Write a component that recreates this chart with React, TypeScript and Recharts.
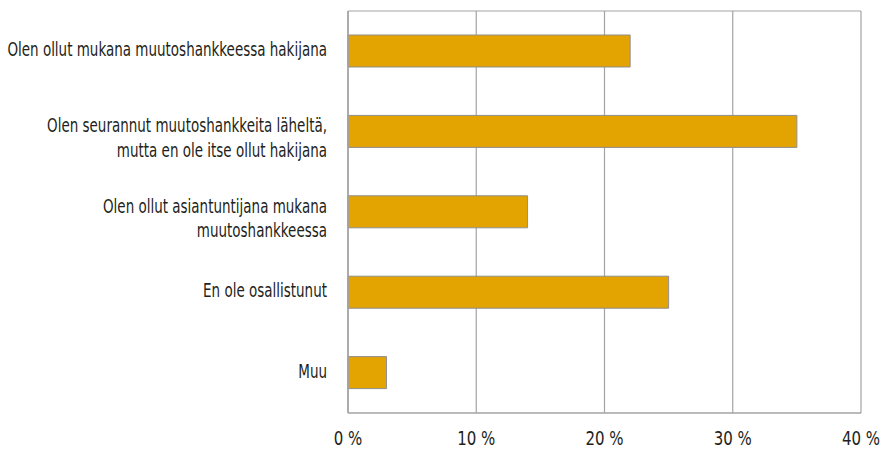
import React from 'react';
import { BarChart, Bar, XAxis, YAxis, CartesianGrid } from 'recharts';

const categories = [
  'Olen ollut mukana muutoshankkeessa hakijana',
  'Olen seurannut muutoshankkeita läheltä,\nmutta en ole itse ollut hakijana',
  'Olen ollut asiantuntijana mukana\nmuutoshankkeessa',
  'En ole osallistunut',
  'Muu',
];
const shares = [22, 35, 14, 25, 3];
const xTicks = [0, 10, 20, 30, 40];

const data = categories.map((name, i) => ({ name, value: shares[i] }));

// condensed look: regular face squeezed horizontally
const FONT = '"DejaVu Sans", sans-serif';
const SX_CAT = 0.71;
const SX_NUM = 0.79;
const GRID = '#a3a3a3';
const TEXT = '#231f20';

const CategoryTick = (props: any) => {
  const { x, y, payload } = props;
  const lines = String(payload.value).split('\n');
  const first = lines.length > 1 ? 0.5 : 5;
  return (
    <g transform={`translate(${x},${y}) scale(${SX_CAT},1)`}>
      <text x={0} y={0} textAnchor="end" fill={TEXT} fontFamily={FONT} fontSize={19}>
        {lines.map((l, i) => (
          <tspan key={i} x={0} y={first + i * 25}>
            {l}
          </tspan>
        ))}
      </text>
    </g>
  );
};

const PercentTick = (props: any) => {
  const { x, y, payload } = props;
  return (
    <g transform={`translate(${x},${y}) scale(${SX_NUM},1)`}>
      <text x={0} y={0} dy={14} textAnchor="middle" fill={TEXT} fontFamily={FONT} fontSize={19}>
        {`${payload.value} %`}
      </text>
    </g>
  );
};

const App: React.FC = () => {
  return (
    <div style={{ position: 'absolute', left: 0, top: 0 }}>
      <BarChart
        width={882}
        height={451}
        data={data}
        layout="vertical"
        margin={{ top: 11, right: 21, left: 0, bottom: 0 }}
      >
        <CartesianGrid
          stroke={GRID}
          strokeWidth={1.2}
          horizontalCoordinatesGenerator={({ offset }: any) => [offset.top]}
        />
        <XAxis
          type="number"
          domain={[0, 40]}
          ticks={xTicks}
          axisLine={{ stroke: GRID, strokeWidth: 1.5 }}
          tickLine={false}
          height={38}
          tick={<PercentTick />}
          tickMargin={12}
        />
        <YAxis
          type="category"
          dataKey="name"
          width={348}
          axisLine={{ stroke: GRID, strokeWidth: 1.5 }}
          tickLine={false}
          tick={<CategoryTick />}
          tickMargin={15}
          interval={0}
        />
        <Bar
          dataKey="value"
          fill="#e3a300"
          stroke="#8f8f8f"
          strokeWidth={1}
          barSize={32}
          isAnimationActive={false}
        />
      </BarChart>
    </div>
  );
};

export default App;
